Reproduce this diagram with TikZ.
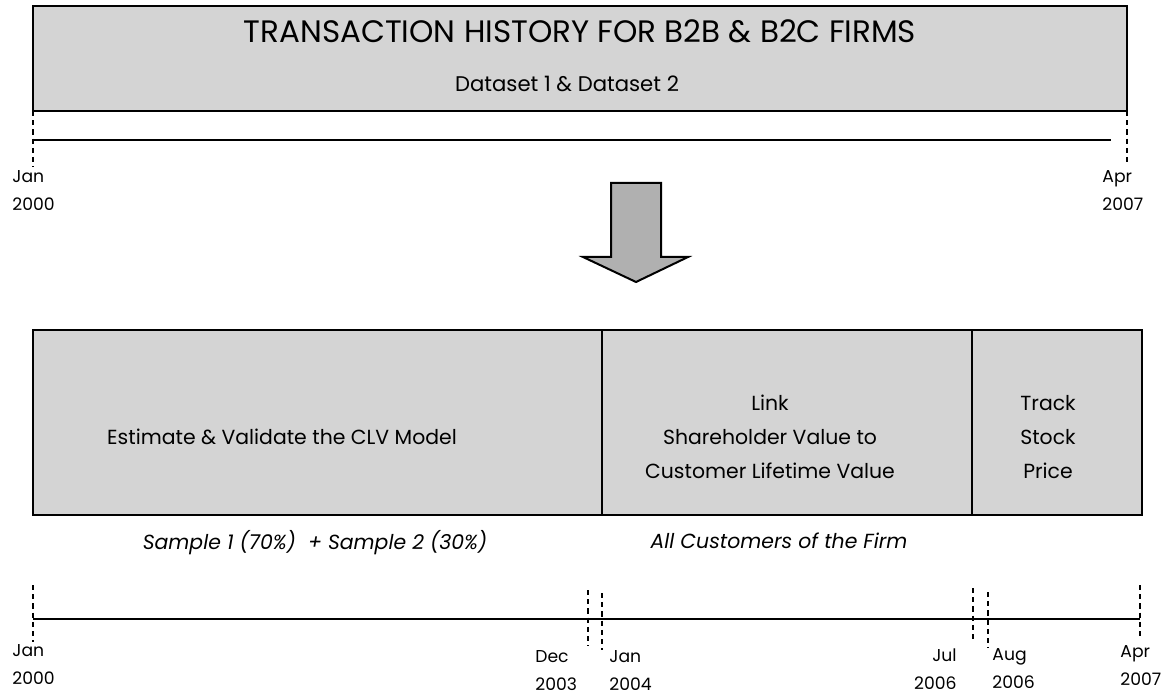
\documentclass[tikz,border=0pt]{standalone}
\usepackage{fontspec}
\setmainfont{Poppins}
\usetikzlibrary{arrows.meta,positioning}
\definecolor{panelgray}{RGB}{212,212,212}
\definecolor{arrowgray}{RGB}{176,176,176}

\begin{document}
\begin{tikzpicture}[x=.5pt,y=-.5pt,line join=miter,
  panel/.style={draw=black,line width=1pt,fill=panelgray},
  timeline/.style={line width=1pt},
  cutline/.style={line width=.9pt,dash pattern=on 2.6pt off 2pt},
  datelbl/.style={font=\fontsize{8.6}{14}\selectfont,inner sep=0pt},
  boxtext/.style={font=\fontsize{10.2}{17}\selectfont,align=center,inner sep=0pt}]
\useasboundingbox (0,0) rectangle (1165,694);
% Gorny panel: pelna historia transakcji.
\draw[panel] (33,6) rectangle (1127,111);
\node[font=\fontsize{15.5}{15}\selectfont,inner sep=0pt] (title) at (580,31) {TRANSACTION HISTORY FOR B2B \& B2C FIRMS};
\node[font=\fontsize{10.6}{10}\selectfont,inner sep=0pt] (data) at (567,84) {Dataset 1 \& Dataset 2};
\coordinate (tA) at (33,140);
\coordinate (tB) at (1111,140);
\draw[timeline] (tA) -- (tB);
\draw[cutline] (33,111) -- (33,167);
\draw[cutline] (1127,111) -- (1127,165);
\node[datelbl,align=left,anchor=north west] (start1) at (12,170) {Jan\\2000};
\node[datelbl,align=left,anchor=north west] (end1) at (1102,170) {Apr\\2007};
% Strzalka w dol.
\draw[line width=1pt,fill=arrowgray] (611,183) -- (661,183) -- (661,257) -- (688,257)
  -- (636,282) -- (583,257) -- (611,257) -- cycle;
% Dolne panele: trzy etapy badania.
\draw[panel] (33,330) rectangle (602,515);
\draw[panel] (602,330) rectangle (972,515);
\draw[panel] (972,330) rectangle (1142,515);
\node[boxtext] (est) at (282,437) {Estimate \& Validate the CLV Model};
\node[boxtext] (link) at (770,437) {Link\\Shareholder Value to\\Customer Lifetime Value};
\node[boxtext] (track) at (1048,437) {Track\\Stock\\Price};
\node[boxtext,font=\fontsize{10.2}{17}\itshape] (samp) at (315,543) {Sample 1 (70\%)\ \ + Sample 2 (30\%)};
\node[boxtext,font=\fontsize{10.2}{17}\itshape] (allc) at (779,541) {All Customers of the Firm};
% Dolna os czasu z granicami okresow.
\coordinate (bA) at (33,619);
\coordinate (bB) at (1140,619);
\draw[timeline] (bA) -- (bB);
\draw[cutline] (33,585) -- (33,642);
\draw[cutline] (588,590) -- (588,646);
\draw[cutline] (602,593) -- (602,650);
\draw[cutline] (973,588) -- (973,643);
\draw[cutline] (988,592) -- (988,648);
\draw[cutline] (1140,585) -- (1140,640);
\node[datelbl,align=left,anchor=north west] (jan00) at (12,644) {Jan\\2000};
\node[datelbl,align=left,anchor=north west] (dec03) at (535,650) {Dec\\2003};
\node[datelbl,align=left,anchor=north west] (jan04) at (609,650) {Jan\\2004};
\node[datelbl,align=right,anchor=north east] (jul06) at (957,648) {Jul\\2006};
\node[datelbl,align=left,anchor=north west] (aug06) at (992,648) {Aug\\2006};
\node[datelbl,align=left,anchor=north west] (apr07) at (1120,645) {Apr\\2007};
\end{tikzpicture}
\end{document}
